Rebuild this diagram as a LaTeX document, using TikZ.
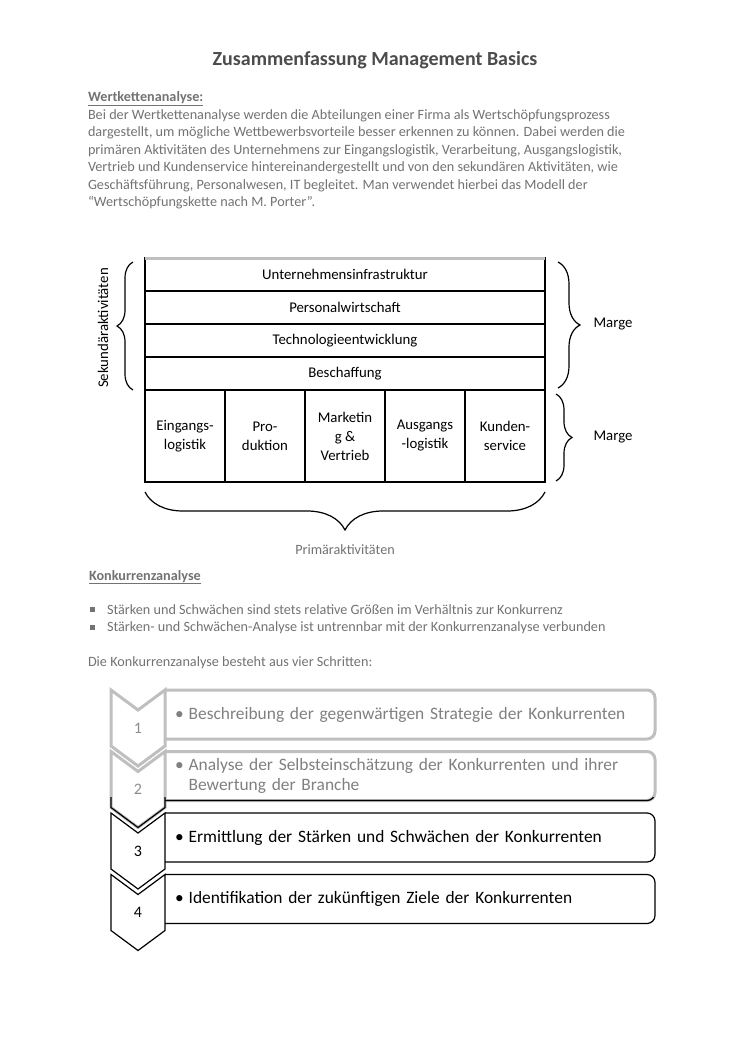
\documentclass[tikz,border=0pt]{standalone}
\usepackage{fontspec}
\setmainfont{Carlito}
\usetikzlibrary{positioning,decorations.pathreplacing}

\begin{document}
\begin{tikzpicture}
[x=1pt,y=-1pt,
 every node/.style={inner sep=0pt,outer sep=0pt,font=\fontsize{14.8}{16}\selectfont},
 blur/.style={text=black!55,font=\fontsize{14.2}{16}\selectfont},
 secrow/.style={draw,line width=1.2pt,minimum width=400pt,minimum height=33pt},
 primcell/.style={draw,line width=1.2pt,minimum width=80pt,minimum height=92pt,align=center,font=\fontsize{14.8}{19}\selectfont},
 curly/.style={decorate,decoration={brace,amplitude=#1},line width=1.2pt},
 stepbox/.style={minimum height=49pt,text width=470pt,inner xsep=10pt,align=left,font=\fontsize{17.4}{20}\selectfont},
 chevron/.style={line width=1.2pt,line join=miter},
 faded/.style={draw=black!25,line width=3pt},
 num/.style={font=\fontsize{16}{16}\selectfont}]
\path[use as bounding box,fill=white] (0,0) rectangle (750,1062);

% Kopf und Einleitung
\node[blur,text=black!70,font=\fontsize{20}{24}\selectfont\bfseries] (titel) at (375,60) {Zusammenfassung Management Basics};
\node[blur,anchor=base west,align=left,font=\fontsize{14.2}{17.5}\selectfont] (wertkette) at (88,206.5)
 {\textbf{\underline{Wertkettenanalyse:}}\\
  Bei der Wertkettenanalyse werden die Abteilungen einer Firma als Wertschöpfungsprozess\\
  dargestellt, um mögliche Wettbewerbsvorteile besser erkennen zu können. Dabei werden die\\
  primären Aktivitäten des Unternehmens zur Eingangslogistik, Verarbeitung, Ausgangslogistik,\\
  Vertrieb und Kundenservice hintereinandergestellt und von den sekundären Aktivitäten, wie\\
  Geschäftsführung, Personalwesen, IT begleitet. Man verwendet hierbei das Modell der\\
  “Wertschöpfungskette nach M. Porter”.};

% Wertkette
\node[secrow] (infra)                                    at (345,274.5) {Unternehmensinfrastruktur};
\node[secrow] (personal)   [on grid,below=33pt of infra]          {Personalwirtschaft};
\node[secrow] (technik)    [on grid,below=33pt of personal]       {Technologieentwicklung};
\node[secrow] (beschaff)   [on grid,below=33pt of technik]        {Beschaffung};
\node[primcell] (marketing) [on grid,below=62.5pt of beschaff]    {Marketin\\g \&\\Vertrieb};
\node[primcell] (produktion) [on grid,left=80pt of marketing]     {Pro-\\duktion};
\node[primcell] (eingang)   [on grid,left=80pt of produktion]     {Eingangs-\\logistik};
\node[primcell] (ausgang)   [on grid,right=80pt of marketing]     {Ausgangs\\-logistik};
\node[primcell] (kunden)    [on grid,right=80pt of ausgang]       {Kunden-\\service};
\draw[faded] (infra.north west) -- (infra.north east);

\draw[curly=16pt] ([xshift=-12pt]beschaff.south west) -- ([xshift=-12pt,yshift=-4pt]infra.north west);
\draw[curly=22pt] ([xshift=13pt,yshift=-4pt]infra.north east) -- ([xshift=13pt,yshift=2pt]beschaff.south east);
\draw[curly=16pt] ([xshift=11pt,yshift=-4pt]kunden.north east) -- ([xshift=11pt,yshift=1pt]kunden.south east);
\draw[curly=38pt] ([yshift=-10pt]kunden.south east) -- ([yshift=-10pt]eingang.south west);

\node[rotate=90] (sekundaer) at (103,328) {Sekundäraktivitäten};
\node (marge1) at (613,324) {Marge};
\node (marge2) at (613,437) {Marge};
\node[blur] (primaer) at (345,550) {Primäraktivitäten};

% Konkurrenzanalyse
\node[blur,anchor=base west] (konkurrenz) at (89,580) {\textbf{\underline{Konkurrenzanalyse}}};
\node[blur,anchor=base west] (punkt1) at (90,614) {\rule[2pt]{5pt}{5pt}\hspace{12pt}Stärken und Schwächen sind stets relative Größen im Verhältnis zur Konkurrenz};
\node[blur,anchor=base west] (punkt2) at (90,631.5) {\rule[2pt]{5pt}{5pt}\hspace{12pt}Stärken- und Schwächen-Analyse ist untrennbar mit der Konkurrenzanalyse verbunden};
\node[blur,anchor=base west] (schritte) at (88,666) {Die Konkurrenzanalyse besteht aus vier Schritten:};

\node[stepbox,text=black!50] (schritt1) at (410,714.5) {•\hspace{5pt}Beschreibung der gegenwärtigen Strategie der Konkurrenten};
\node[stepbox,text=black!50] (schritt2) at (410,776)   {•\hspace{5pt}Analyse der Selbsteinschätzung der Konkurrenten und ihrer\\\phantom{•\hspace{5pt}}Bewertung der Branche};
\node[stepbox] (schritt3) at (410,837.5) {•\hspace{5pt}Ermittlung der Stärken und Schwächen der Konkurrenten};
\node[stepbox] (schritt4) at (410,899)   {•\hspace{5pt}Identifikation der zukünftigen Ziele der Konkurrenten};

\draw[chevron,faded] (111,690) -- (138,710) -- (165,690) -- (165,746) -- (138,766) -- (111,746) -- cycle;
\draw[chevron,faded] (111,751.5) -- (138,771.5) -- (165,751.5) -- (165,807.5) -- (138,827.5) -- (111,807.5) -- cycle;
\draw[chevron] (111,813) -- (138,833) -- (165,813) -- (165,869) -- (138,889) -- (111,869) -- cycle;
\draw[chevron] (111,874.5) -- (138,894.5) -- (165,874.5) -- (165,930.5) -- (138,950.5) -- (111,930.5) -- cycle;
\draw[faded,rounded corners=8pt] (schritt1.north west) -- (schritt1.north east) -- (schritt1.south east) -- (schritt1.south west);
\draw[faded,rounded corners=8pt] (schritt2.north west) -- (schritt2.north east) -- (schritt2.south east) -- (schritt2.south west);
\draw[line width=1.2pt,rounded corners=8pt] (schritt3.north west) -- (schritt3.north east) -- (schritt3.south east) -- (schritt3.south west);
\draw[line width=1.2pt,rounded corners=8pt] (schritt4.north west) -- (schritt4.north east) -- (schritt4.south east) -- (schritt4.south west);
\begin{scope}
\clip (0,797) rectangle (750,1062);
\draw[chevron] (111,751.5) -- (138,771.5) -- (165,751.5) -- (165,807.5) -- (138,827.5) -- (111,807.5) -- cycle;
\draw[line width=1.2pt,rounded corners=8pt] (schritt2.north west) -- (schritt2.north east) -- (schritt2.south east) -- (schritt2.south west);
\end{scope}

\node[num,text=black!45] (nr1) at (138,728) {1};
\node[num,text=black!45] (nr2) at (138,789.5) {2};
\node[num] (nr3) at (138,851) {3};
\node[num] (nr4) at (138,912.5) {4};
\end{tikzpicture}
\end{document}
